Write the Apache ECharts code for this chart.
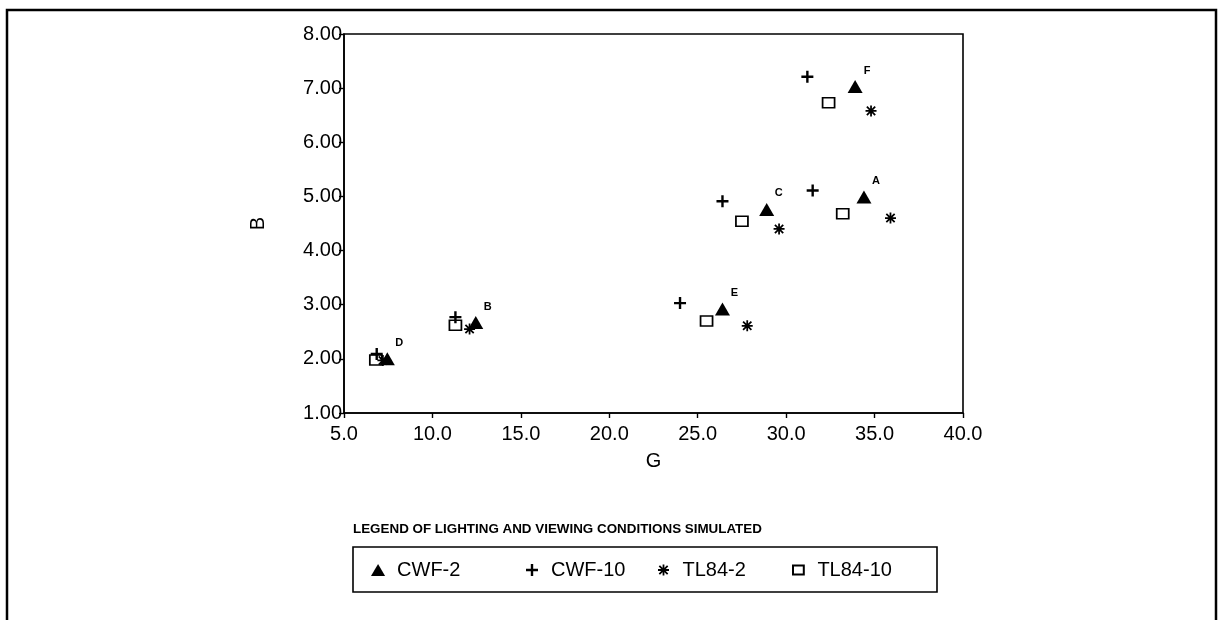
<!DOCTYPE html>
<html><head><meta charset="utf-8">
<script src="https://cdn.jsdelivr.net/npm/echarts@6/dist/echarts.min.js"></script>
<style>html,body{margin:0;padding:0;background:#fff}#c{width:1227px;height:620px}</style>
</head><body><div id="c"></div>
<script>
// ---- data ----
const sampleLetters = ['D', 'B', 'E', 'C', 'A', 'F'];
const cwf2G  = [7.45, 12.45, 26.4, 28.9, 34.4, 33.9];
const cwf2B  = [2.00, 2.67, 2.92, 4.76, 4.99, 7.03];
const cwf10G = [6.85, 11.3, 24.0, 26.4, 31.5, 31.2];
const cwf10B = [2.09, 2.77, 3.03, 4.91, 5.11, 7.21];
const tl842G = [7.2, 12.1, 27.8, 29.6, 35.9, 34.8];
const tl842B = [1.97, 2.55, 2.61, 4.40, 4.60, 6.58];
const tl8410G = [6.8, 11.3, 25.5, 27.5, 33.2, 32.4];
const tl8410B = [1.98, 2.62, 2.70, 4.54, 4.68, 6.73];
const seriesNames = ['CWF-2', 'CWF-10', 'TL84-2', 'TL84-10'];
const xTickLabels = ['5.0', '10.0', '15.0', '20.0', '25.0', '30.0', '35.0', '40.0'];
const yTickLabels = ['1.00', '2.00', '3.00', '4.00', '5.00', '6.00', '7.00', '8.00'];
const legendTitle = 'LEGEND OF LIGHTING AND VIEWING CONDITIONS SIMULATED';

const pairs = (g, b) => g.map((v, i) => [v, b[i]]);
const FONT = '"Liberation Sans", Arial, sans-serif';

const triPath = 'path://M10 0L20 17L0 17Z';
const plusPath = 'path://M8 0L12 0L12 8L20 8L20 12L12 12L12 20L8 20L8 12L0 12L0 8L8 8Z';
const starPath = 'path://M0 8.4L20 8.4L20 11.6L0 11.6Z M8.4 0L11.6 0L11.6 20L8.4 20Z M1.3 3.6L3.6 1.3L18.7 16.4L16.4 18.7Z M16.4 1.3L18.7 3.6L3.6 18.7L1.3 16.4Z';
const boxPath = 'path://M0 0L12 0L12 10L0 10Z';

const chart = echarts.init(document.getElementById('c'), null, { renderer: 'canvas' });

const legendLefts = [371, 526, 658, 792];
const legendIconH = [12, 12, 11, 9];
const legends = seriesNames.map((n, i) => ({
  data: [n], left: legendLefts[i], top: 560, padding: 0,
  itemWidth: 28, itemHeight: legendIconH[i], selectedMode: false, symbolKeepAspect: true,
  textStyle: { fontFamily: FONT, fontSize: 20, color: '#000' }
}));

chart.setOption({
  animation: false,
  backgroundColor: '#fff',
  grid: { left: 344, top: 34, right: 264, bottom: 207, show: true, borderColor: '#000', borderWidth: 1.6, backgroundColor: 'transparent' },
  xAxis: {
    type: 'value', min: 5, max: 40, interval: 5,
    name: 'G', nameLocation: 'middle', nameGap: 38,
    nameTextStyle: { fontFamily: FONT, fontSize: 20, color: '#000' },
    axisLine: { show: true, lineStyle: { color: '#000', width: 1.6 } },
    axisTick: { show: true, length: 5, lineStyle: { color: '#000', width: 1.4 } },
    axisLabel: { margin: 11, fontFamily: FONT, fontSize: 20, color: '#000',
      formatter: v => xTickLabels[Math.round((v - 5) / 5)] },
    splitLine: { show: false }
  },
  yAxis: {
    type: 'value', min: 1, max: 8, interval: 1,
    name: 'B', nameLocation: 'middle', nameGap: 76, nameRotate: 90,
    nameTextStyle: { fontFamily: FONT, fontSize: 20, color: '#000' },
    axisLine: { show: true, lineStyle: { color: '#000', width: 1.6 } },
    axisTick: { show: true, length: 5, lineStyle: { color: '#000', width: 1.4 } },
    axisLabel: { margin: 2, fontFamily: FONT, fontSize: 20, color: '#000',
      formatter: v => yTickLabels[Math.round(v - 1)] },
    splitLine: { show: false }
  },
  legend: legends,
  graphic: [
    { type: 'rect', shape: { x: 7, y: 10, width: 1209, height: 640 }, style: { fill: 'none', stroke: '#000', lineWidth: 2.5 }, silent: true, z: -1 },
    { type: 'text', left: 353, top: 523, style: { text: legendTitle, font: 'bold 13.4px ' + FONT, fill: '#000' } },
    { type: 'rect', shape: { x: 353, y: 547, width: 584, height: 45 }, style: { fill: 'none', stroke: '#000', lineWidth: 1.6 }, silent: true }
  ],
  series: [
    {
      name: seriesNames[0], type: 'scatter', data: pairs(cwf2G, cwf2B),
      symbol: triPath, symbolSize: [15, 13], z: 5,
      itemStyle: { color: '#000', opacity: 1 },
      label: { show: true, position: 'inside', offset: [12, -16],
        formatter: p => sampleLetters[p.dataIndex],
        fontFamily: FONT, fontWeight: 'bold', fontSize: 11, color: '#000' }
    },
    {
      name: seriesNames[1], type: 'scatter', data: pairs(cwf10G, cwf10B),
      symbol: plusPath, symbolSize: 12, z: 4,
      itemStyle: { color: '#000', opacity: 1 }
    },
    {
      name: seriesNames[2], type: 'scatter', data: pairs(tl842G, tl842B),
      symbol: starPath, symbolSize: 11, z: 4,
      itemStyle: { color: '#000', opacity: 1 }
    },
    {
      name: seriesNames[3], type: 'scatter', data: pairs(tl8410G, tl8410B),
      symbol: boxPath, symbolSize: [12, 10], z: 3,
      itemStyle: { color: '#fff', borderColor: '#000', borderWidth: 1.6, opacity: 1 }
    }
  ]
});
</script>
</body></html>
